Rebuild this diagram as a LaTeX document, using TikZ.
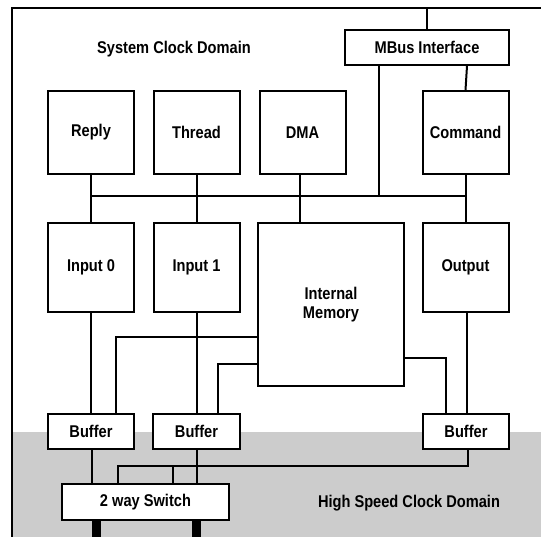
\documentclass[tikz,border=0pt]{standalone}
\usepackage{fontspec}
\setmainfont{Liberation Sans}
\newfontfamily\diagfont{Liberation Sans Bold}[FakeStretch=0.86]
\begin{document}
\begin{tikzpicture}[x=1pt, y=-1pt, line width=2pt,
  unit/.style={draw, fill=white, rectangle, inner sep=0pt, align=center,
    font=\diagfont\fontsize{17}{19}\selectfont},
  big/.style={unit, minimum width=86pt, minimum height=86pt},
  flat/.style={unit, minimum height=35pt},
  domain text/.style={font=\diagfont\fontsize{17}{19}\selectfont, inner sep=0pt},
  thick bus/.style={line width=9pt}]
  \useasboundingbox (0,0) rectangle (541,537);

  % high speed clock domain shading
  \fill[black!20] (12,432) rectangle (541,537);

  % chip boundary
  \coordinate (tr) at (541,8);
  \coordinate (tl) at (12,8);
  \coordinate (bl) at (12,537);
  \draw (tr) -- (tl) -- (bl);

  \node[domain text] (sysdom) at (174,49) {System Clock Domain};
  \node[domain text] (hsdom) at (409,503) {High Speed Clock Domain};

  % system clock units
  \node[flat, minimum width=164pt] (mbus) at (427,47.5) {MBus Interface};
  \node[big, minimum height=83pt] (reply) at (91,132.5) {Reply};
  \node[big, minimum height=83pt] (thread) at (196.5,132.5) {Thread};
  \node[big, minimum height=83pt] (dma) at (302.5,132.5) {DMA};
  \node[big, minimum height=83pt] (command) at (465.5,132.5) {Command};

  \node[big, minimum height=89pt] (in0) at (91,267.5) {Input 0};
  \node[big, minimum height=89pt] (in1) at (196.5,267.5) {Input 1};
  \node[unit, minimum width=146pt, minimum height=163pt] (mem) at (331,304.5) {Internal\\Memory};
  \node[big, minimum height=89pt] (out) at (465.5,267.5) {Output};

  % buffers and switch
  \node[flat, minimum width=86pt] (buf0) at (91,431.5) {Buffer};
  \node[flat, minimum width=87pt] (buf1) at (196.5,431.5) {Buffer};
  \node[flat, minimum width=86pt] (buf2) at (466,431.5) {Buffer};
  \node[unit, minimum width=167pt, minimum height=36pt] (switch) at (145.5,502) {2 way Switch};

  % bus coordinates
  \coordinate (busl) at (91,196.5);
  \coordinate (busr) at (466,196.5);
  \coordinate (memo0) at (258,337);
  \coordinate (memo1) at (258,364);
  \coordinate (memo2) at (404,358);
  \coordinate (ret) at (468,466);

  % MBus interface links
  \draw (mbus.north) -- (mbus.north |- tl);
  \draw ([xshift=-48pt]mbus.south) -- ([xshift=-48pt]mbus.south |- busl);
  \draw ([xshift=40pt]mbus.south) -- (command.north);

  % internal bus
  \draw (busl) -- (busr);
  \draw (reply.south) -- (in0.north);
  \draw (thread.south) -- (in1.north);
  \draw ([xshift=-2.5pt]dma.south) -- ([xshift=-2.5pt]dma.south |- mem.north);
  \draw (command.south) -- (out.north);

  % units to buffers
  \draw (in0.south) -- (buf0.north);
  \draw (in1.south) -- (buf1.north);
  \draw (memo0) -| (116,0 |- buf0.north);
  \draw (memo1) -| (218,0 |- buf1.north);
  \draw (memo2) -| (446,0 |- buf2.north);
  \draw ([xshift=1pt]out.south) -- ([xshift=1pt]out.south |- buf2.north);

  % buffers to switch
  \draw ([xshift=1pt]buf0.south) -- ([xshift=1pt]buf0.south |- switch.north);
  \draw (buf1.south) -- (buf1.south |- switch.north);
  \draw (ret |- buf2.south) -- (ret) -- (118,466) -- (118,0 |- switch.north);
  \draw (173,466) -- (173,0 |- switch.north);

  % high speed links
  \draw[thick bus] (96.5,0 |- switch.south) -- (96.5,537);
  \draw[thick bus] (196.5,0 |- switch.south) -- (196.5,537);
\end{tikzpicture}
\end{document}
